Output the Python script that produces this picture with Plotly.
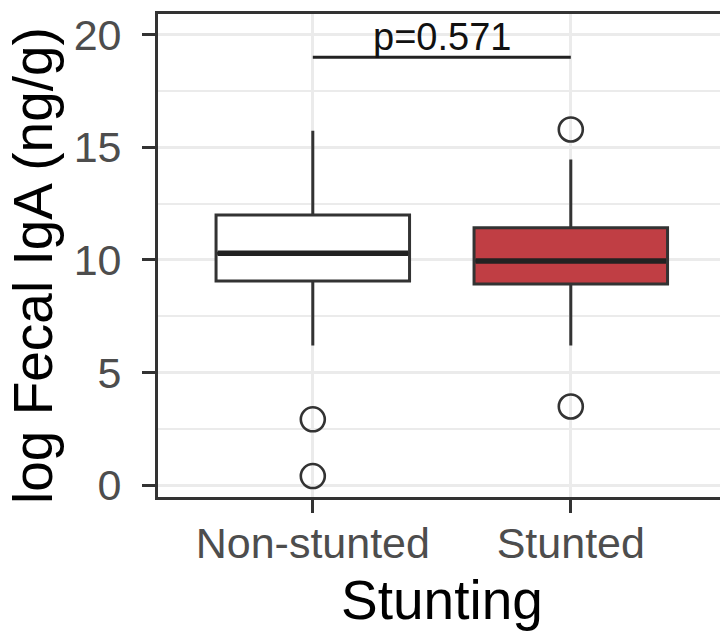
import plotly.graph_objects as go

categories = ["Non-stunted", "Stunted"]
cat_pos = [1, 2]
q1 = [9.06, 8.93]
median = [10.30, 9.95]
q3 = [11.99, 11.43]
lowerfence = [6.20, 6.20]
upperfence = [15.73, 14.46]
outliers = {"Non-stunted": [2.92, 0.40], "Stunted": [15.79, 3.49]}
fills = ["#FFFFFF", "#C03E44"]
p_label = "p=0.571"
bracket_y = 19.0
y_ticks = [0, 5, 10, 15, 20]

FONT = "Liberation Sans, Arial, Helvetica, sans-serif"
DARK = "#333333"
BOXW = 0.75

fig = go.Figure()
for i, cat in enumerate(categories):
    fig.add_trace(go.Box(
        x=[cat_pos[i]], q1=[q1[i]], median=[median[i]], q3=[q3[i]],
        lowerfence=[lowerfence[i]], upperfence=[upperfence[i]],
        width=BOXW, whiskerwidth=0, fillcolor=fills[i],
        line=dict(color=DARK, width=3), boxpoints=False,
        showlegend=False, hoverinfo="skip"))
    # thick median line
    fig.add_trace(go.Scatter(
        x=[cat_pos[i] - BOXW / 2 + 0.006, cat_pos[i] + BOXW / 2 - 0.006],
        y=[median[i], median[i]], mode="lines",
        line=dict(color="#222222", width=5.5), showlegend=False, hoverinfo="skip"))
    ys = outliers[cat]
    fig.add_trace(go.Scatter(
        x=[cat_pos[i]] * len(ys), y=ys, mode="markers",
        marker=dict(symbol="circle-open", size=24, color=DARK, line=dict(width=2.6, color=DARK)),
        showlegend=False, hoverinfo="skip"))

# significance bracket
fig.add_trace(go.Scatter(
    x=[cat_pos[0], cat_pos[1]], y=[bracket_y, bracket_y], mode="lines",
    line=dict(color="#222222", width=2.8), showlegend=False, hoverinfo="skip"))

fig.add_annotation(x=(cat_pos[0] + cat_pos[1]) / 2, y=bracket_y, xref="x", yref="y",
                   text=p_label, showarrow=False, yanchor="bottom", xanchor="center",
                   yshift=-3, font=dict(family=FONT, size=38, color="#111111"))

# axis titles
fig.add_annotation(x=0.505, y=-(600 - 497) / 483, xref="paper", yref="paper",
                   text="Stunting", showarrow=False, xanchor="center", yanchor="middle",
                   font=dict(family=FONT, size=55, color="#000000"))
fig.add_annotation(x=(33 - 158) / 562, y=0.5 + (255.5 - 266) / 483, xref="paper", yref="paper",
                   text="log Fecal IgA (ng/g)", showarrow=False, textangle=-90,
                   xanchor="center", yanchor="middle",
                   font=dict(family=FONT, size=55, color="#000000"))

fig.update_layout(
    width=720, height=631,
    margin=dict(l=158, r=0, t=14, b=134),
    paper_bgcolor="white", plot_bgcolor="white",
    font=dict(family=FONT),
    xaxis=dict(
        range=[0.4, 0.4 + 562 / 258], tickmode="array", tickvals=cat_pos, ticktext=categories,
        showgrid=True, gridcolor="#EBEBEB", gridwidth=3,
        showline=True, linecolor=DARK, linewidth=2.8, mirror=True,
        ticks="outside", ticklen=13, tickwidth=3, tickcolor=DARK,
        ticklabelstandoff=-7,
        tickfont=dict(family=FONT, size=43, color="#4D4D4D"), zeroline=False),
    yaxis=dict(
        range=[-0.53, 20.92], tickmode="array", tickvals=y_ticks,
        showgrid=True, gridcolor="#EBEBEB", gridwidth=3,
        minor=dict(tick0=2.5, dtick=5, showgrid=True, gridcolor="#EBEBEB", gridwidth=1.5, ticks=""),
        showline=True, linecolor=DARK, linewidth=2.8, mirror=False,
        ticks="outside", ticklen=13, tickwidth=3, tickcolor=DARK,
        ticklabelstandoff=12,
        tickfont=dict(family=FONT, size=43, color="#4D4D4D"), zeroline=False),
)

fig.write_html("out.html")
